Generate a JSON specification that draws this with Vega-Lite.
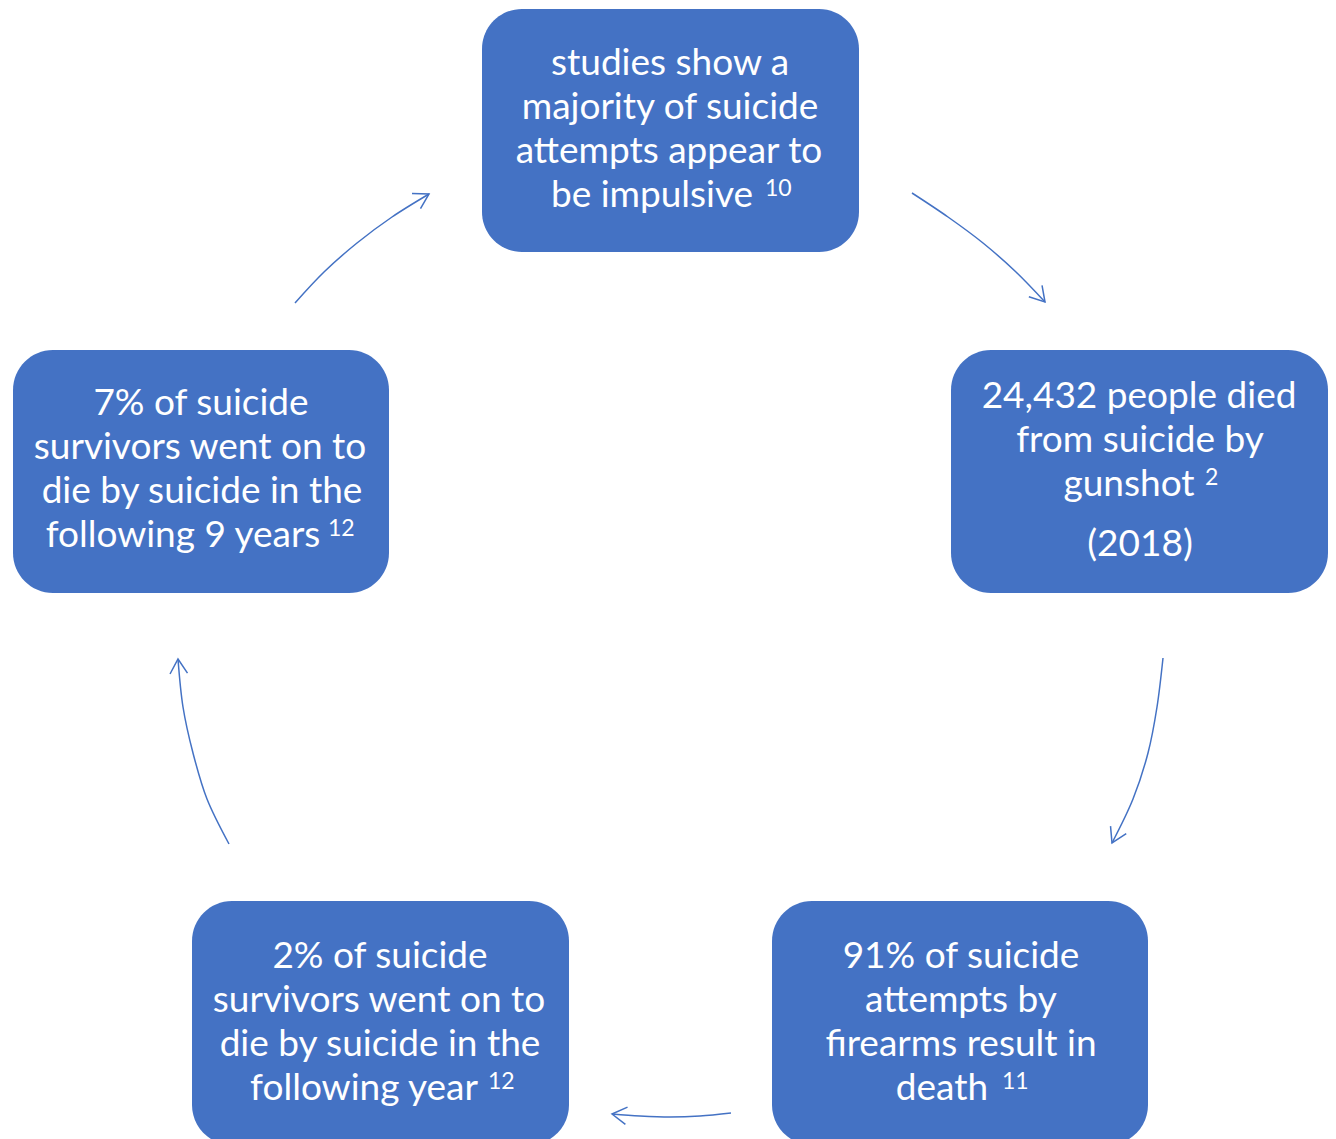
{
  "$schema": "https://vega.github.io/schema/vega-lite/v6.json",
  "width": 1336,
  "height": 1139,
  "padding": 0,
  "autosize": {"type": "fit", "contains": "padding"},
  "background": "white",
  "config": {"view": {"stroke": null}},
  "encoding": {
    "x": {"field": "x", "type": "quantitative", "scale": {"domain": [0, 1336], "nice": false, "zero": false}, "axis": null},
    "y": {"field": "y", "type": "quantitative", "scale": {"domain": [0, 1139], "nice": false, "zero": false, "reverse": true}, "axis": null}
  },
  "layer": [
    {
      "data": {"values": [
        {"box": "top", "x": 482, "x2": 859, "y": 9, "y2": 252},
        {"box": "right", "x": 951, "x2": 1328, "y": 350, "y2": 593},
        {"box": "left", "x": 13, "x2": 389, "y": 350, "y2": 593},
        {"box": "bottomleft", "x": 192, "x2": 569, "y": 901, "y2": 1145},
        {"box": "bottomright", "x": 772, "x2": 1148, "y": 901, "y2": 1145}
      ]},
      "mark": {"type": "rect", "cornerRadius": 40, "color": "#4472C4", "clip": true},
      "encoding": {"x2": {"field": "x2"}, "y2": {"field": "y2"}}
    },
    {
      "data": {"values": [
        {"arrow": 1, "o": 1, "x": 295, "y": 303}, {"arrow": 1, "o": 2, "x": 324, "y": 272}, {"arrow": 1, "o": 3, "x": 357, "y": 243}, {"arrow": 1, "o": 4, "x": 392, "y": 217}, {"arrow": 1, "o": 5, "x": 429, "y": 194},
        {"arrow": 2, "o": 1, "x": 912, "y": 193}, {"arrow": 2, "o": 2, "x": 948, "y": 217}, {"arrow": 2, "o": 3, "x": 983, "y": 243}, {"arrow": 2, "o": 4, "x": 1016, "y": 272}, {"arrow": 2, "o": 5, "x": 1045, "y": 302},
        {"arrow": 3, "o": 1, "x": 1163, "y": 658}, {"arrow": 3, "o": 2, "x": 1157, "y": 707}, {"arrow": 3, "o": 3, "x": 1148, "y": 753}, {"arrow": 3, "o": 4, "x": 1133, "y": 799}, {"arrow": 3, "o": 5, "x": 1112, "y": 843},
        {"arrow": 4, "o": 1, "x": 731, "y": 1113}, {"arrow": 4, "o": 2, "x": 700, "y": 1116}, {"arrow": 4, "o": 3, "x": 670, "y": 1117}, {"arrow": 4, "o": 4, "x": 640, "y": 1116}, {"arrow": 4, "o": 5, "x": 612, "y": 1114},
        {"arrow": 5, "o": 1, "x": 229, "y": 844}, {"arrow": 5, "o": 2, "x": 207, "y": 799}, {"arrow": 5, "o": 3, "x": 193, "y": 753}, {"arrow": 5, "o": 4, "x": 183, "y": 707}, {"arrow": 5, "o": 5, "x": 178, "y": 659}
      ]},
      "mark": {"type": "line", "interpolate": "cardinal", "color": "#4472C4", "strokeWidth": 1.5},
      "encoding": {"detail": {"field": "arrow"}, "order": {"field": "o", "type": "quantitative"}}
    },
    {
      "data": {"values": [
        {"arrow": 1, "x": 429, "y": 194, "angle": 61},
        {"arrow": 2, "x": 1045, "y": 302, "angle": 139},
        {"arrow": 3, "x": 1112, "y": 843, "angle": 206},
        {"arrow": 4, "x": 612, "y": 1114, "angle": 277},
        {"arrow": 5, "x": 178, "y": 659, "angle": 357}
      ]},
      "mark": {"type": "point", "shape": "M -0.6 1 L 0 0 L 0.6 1", "filled": false, "size": 850, "strokeWidth": 1.5, "color": "#4472C4", "opacity": 1},
      "encoding": {"angle": {"field": "angle", "type": "quantitative", "scale": null}}
    },
    {
      "data": {"values": [
        {"x": 670, "y": 75, "t": "studies show a"},
        {"x": 670, "y": 119, "t": "majority of suicide"},
        {"x": 669, "y": 163, "t": "attempts appear to"},
        {"x": 652, "y": 207, "t": "be impulsive"},
        {"x": 1139, "y": 408, "t": "24,432 people died"},
        {"x": 1140, "y": 452, "t": "from suicide by"},
        {"x": 1129, "y": 496, "t": "gunshot"},
        {"x": 1140, "y": 556, "t": "(2018)"},
        {"x": 201, "y": 415, "t": "7% of suicide"},
        {"x": 200, "y": 459, "t": "survivors went on to"},
        {"x": 202, "y": 503, "t": "die by suicide in the"},
        {"x": 183, "y": 547, "t": "following 9 years"},
        {"x": 380, "y": 968, "t": "2% of suicide"},
        {"x": 379, "y": 1012, "t": "survivors went on to"},
        {"x": 380, "y": 1056, "t": "die by suicide in the"},
        {"x": 364, "y": 1100, "t": "following year"},
        {"x": 961, "y": 968, "t": "91% of suicide"},
        {"x": 961, "y": 1012, "t": "attempts by"},
        {"x": 961, "y": 1056, "t": "firearms result in"},
        {"x": 942, "y": 1100, "t": "death"}
      ]},
      "mark": {"type": "text", "font": "Lato", "fontSize": 37, "color": "white", "align": "center", "baseline": "alphabetic"},
      "encoding": {"text": {"field": "t"}}
    },
    {
      "data": {"values": [
        {"x": 765, "y": 196, "t": "10"},
        {"x": 1205, "y": 485, "t": "2"},
        {"x": 328, "y": 536, "t": "12"},
        {"x": 488, "y": 1089, "t": "12"},
        {"x": 1002, "y": 1089, "t": "11"}
      ]},
      "mark": {"type": "text", "font": "Lato", "fontSize": 23, "color": "white", "align": "left", "baseline": "alphabetic"},
      "encoding": {"text": {"field": "t"}}
    }
  ]
}
